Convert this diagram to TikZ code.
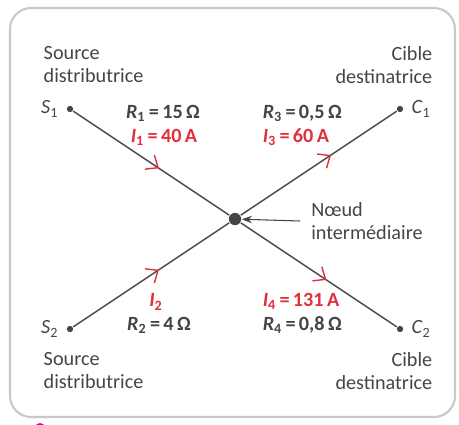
\documentclass[tikz,border=0pt]{standalone}
\usepackage{fontspec}
\setmainfont{Carlito}
\usetikzlibrary{positioning,calc,arrows.meta,decorations.markings}
\definecolor{ink}{HTML}{454545}
\definecolor{wire}{HTML}{4A4A4A}
\definecolor{red}{HTML}{E0303C}
\definecolor{frame}{HTML}{C8C8C8}
\newcommand{\Ohm}{\,Ω}
\newcommand{\Rv}[2]{\textit{R}\textsubscript{#1}\,=\,#2}
\newcommand{\Iv}[1]{\textit{I}\textsubscript{#1}}
\tikzset{
  lbl/.style={text=ink, font=\fontsize{11.5}{13}\selectfont, inner sep=0pt},
  val/.style={lbl, font=\fontsize{11.5}{13}\selectfont\bfseries},
  cur/.style={val, text=red},
  term/.style={circle, fill=ink, inner sep=0pt, minimum size=3.6pt},
  flow/.style={postaction={decorate}, decoration={markings,
      mark=at position #1 with {\arrow[red, line width=0.8pt]{Straight Barb[length=2mm, width=3.4mm]}}}}
}

\begin{document}
\begin{tikzpicture}[x=0.02cm,y=-0.02cm, line width=0.85pt, >={Stealth[length=2mm]}]
\useasboundingbox (0,0) rectangle (459,424);
% ---- frame
\draw[frame, line width=1.2pt, rounded corners=12] (10,8) rectangle (455,417);
\fill[magenta] (40,428) circle (5);
% ---- terminals and the middle node
\node[term] (S1) at (70,109) {};
\node[term] (C1) at (400,109) {};
\node[term] (S2) at (70,329) {};
\node[term] (C2) at (400,329) {};
\node[term, minimum size=7pt] (N) at (235,219) {};
% ---- wires, red marks give the current sense
\draw[wire, flow=0.55] (S1) -- (N);
\draw[wire, flow=0.55] (S2) -- (N);
\draw[wire, flow=0.58] (N) -- (C1);
\draw[wire, flow=0.55] (N) -- (C2);
% ---- terminal names
\node[lbl, left=4pt of S1] (nS1) {\textit{S}\textsubscript{1}};
\node[lbl, left=4pt of S2] (nS2) {\textit{S}\textsubscript{2}};
\node[lbl, right=4pt of C1] (nC1) {\textit{C}\textsubscript{1}};
\node[lbl, right=4pt of C2] (nC2) {\textit{C}\textsubscript{2}};
\node[lbl, align=left, anchor=north west] (srcA) at (43,46) {Source\\distributrice};
\node[lbl, align=left, anchor=north west] (srcB) at (43,352) {Source\\distributrice};
\node[lbl, align=right, anchor=north east] (tgtA) at (433,46) {Cible\\destinatrice};
\node[lbl, align=right, anchor=north east] (tgtB) at (433,352) {Cible\\destinatrice};
% ---- branch values
\node[val] (R1) at (163,113) {\Rv{1}{15\Ohm}};
\node[cur] (I1) at (164,137) {\Iv{1}\,=\,40\,A};
\node[val, anchor=west] (R3) at (262,113) {\Rv{3}{0,5\Ohm}};
\node[cur, anchor=west] (I3) at (262,137) {\Iv{3}\,=\,60\,A};
\node[cur] (I2) at (156,302) {\Iv{2}};
\node[val] (R2) at (159,325) {\Rv{2}{4\Ohm}};
\node[cur, anchor=west] (I4) at (262,301) {\Iv{4}\,=\,131\,A};
\node[val, anchor=west] (R4) at (262,325) {\Rv{4}{0,8\Ohm}};
% ---- node label with its pointer
\node[lbl, align=left, anchor=west, inner xsep=6pt] (lblN) at (300,221) {Nœud\\intermédiaire};
\draw[ink, ->, line width=0.6pt] (lblN.west) -- (N);
\end{tikzpicture}
\end{document}
